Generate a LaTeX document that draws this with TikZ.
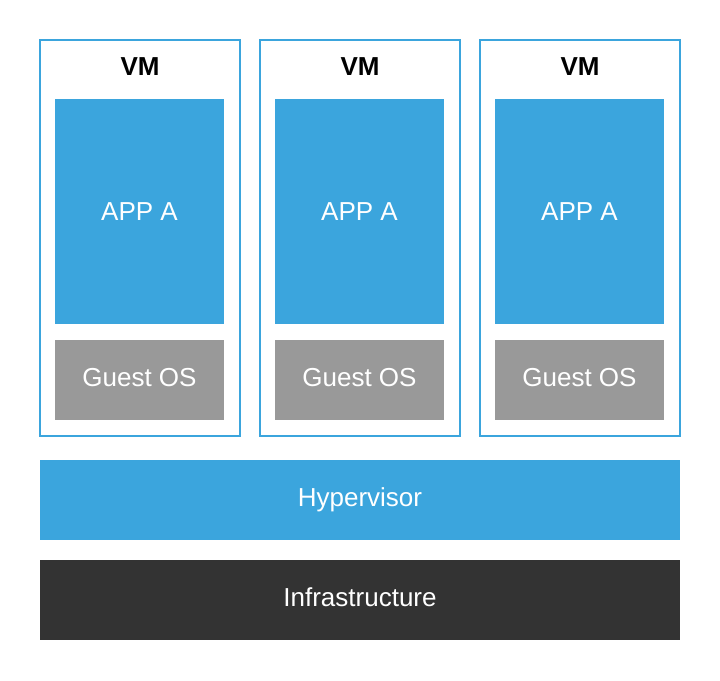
\documentclass[tikz,border=0pt]{standalone}
\usepackage{fontspec}
\setmainfont{Liberation Sans}
\definecolor{vmblue}{RGB}{59, 165, 221}
\definecolor{osgray}{RGB}{153, 153, 153}
\definecolor{infradark}{RGB}{51, 51, 51}
\usetikzlibrary{positioning}

\begin{document}
\begin{tikzpicture}[
  x=1pt, y=-1pt,
  vmbox/.style={draw=vmblue, line width=1.5pt, fill=white, minimum width=200pt, minimum height=396pt, inner sep=0pt},
  vmlabel/.style={font=\fontsize{26}{31}\selectfont\bfseries, text=black, inner sep=0pt},
  appbox/.style={fill=vmblue, minimum width=169pt, minimum height=225pt, inner sep=0pt, text=white, font=\fontsize{26}{31}\selectfont},
  osbox/.style={fill=osgray, minimum width=169pt, minimum height=80pt, inner sep=0pt, text depth=5.5pt, text=white, font=\fontsize{26}{31}\selectfont},
  layer/.style={minimum width=640pt, minimum height=80pt, inner sep=0pt, text depth=6.5pt, text=white, font=\fontsize{26}{31}\selectfont}
]
  \useasboundingbox (0,0) rectangle (720,680);
  % virtual machines
  \node[vmbox] (vm1) at (140, 238) {};
  \node[vmbox] (vm2) at (360, 238) {};
  \node[vmbox] (vm3) at (580, 238) {};
  \node[vmlabel] (vm1title) at (140, 67) {VM};
  \node[vmlabel] (vm2title) at (360, 67) {VM};
  \node[vmlabel] (vm3title) at (580, 67) {VM};
  \node[appbox] (app1) at (139.5, 211.5) {APP A};
  \node[appbox] (app2) at (359.5, 211.5) {APP A};
  \node[appbox] (app3) at (579.5, 211.5) {APP A};
  \node[osbox] (os1) at (139.5, 380) {Guest OS};
  \node[osbox] (os2) at (359.5, 380) {Guest OS};
  \node[osbox] (os3) at (579.5, 380) {Guest OS};
  % shared layers
  \node[layer, fill=vmblue] (hypervisor) at (360, 500) {Hypervisor};
  \node[layer, fill=infradark] (infra) at (360, 600) {Infrastructure};
\end{tikzpicture}
\end{document}
